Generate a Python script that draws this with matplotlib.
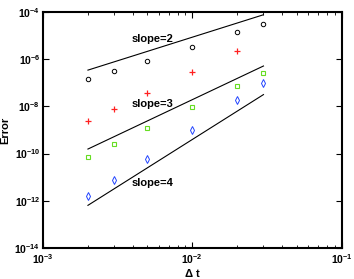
import numpy as np
import matplotlib
matplotlib.use("Agg")
import matplotlib.pyplot as plt
from matplotlib.ticker import LogLocator, NullFormatter, FixedLocator

plt.rcParams['font.family'] = ['Liberation Sans', 'DejaVu Sans']
plt.rcParams['mathtext.fontset'] = 'custom'
plt.rcParams['mathtext.rm'] = 'Liberation Sans:bold'
plt.rcParams['mathtext.bf'] = 'Liberation Sans:bold'

# data
dt = [0.002, 0.003, 0.005, 0.01, 0.02, 0.03]
err_circle = [1.4e-7, 3.2e-7, 8.7e-7, 3.5e-6, 1.4e-5, 3.2e-5]
dt_plus = [0.002, 0.003, 0.005, 0.01, 0.02]
err_plus = [2.4e-9, 8.0e-9, 3.6e-8, 3.0e-7, 2.3e-6]
err_square = [7.4e-11, 2.5e-10, 1.2e-9, 9.1e-9, 7.2e-8, 2.6e-7]
err_diamond = [1.5e-12, 7.7e-12, 5.8e-11, 1.0e-9, 1.8e-8, 9.6e-8]

# reference slope lines: C * dt^p
ref_dt = [0.002, 0.03]
slopes = [2, 3, 4]
ref_const = [0.0875, 0.0194, 0.0394]
label_pos = [(0.0054, 10**-5.13), (0.0054, 10**-7.88), (0.0054, 10**-11.26)]

fig = plt.figure(figsize=(3.54, 2.79), dpi=100)
ax = fig.add_axes([0.1215, 0.1122, 0.8432, 0.8437])

ax.plot(dt, err_circle, 'o', mfc='none', mec='black', ms=3.2, mew=0.7)
ax.plot(dt_plus, err_plus, '+', color='#ff2020', ms=4.5, mew=0.9)
ax.plot(dt, err_square, 's', mfc='none', mec='#66dd22', ms=2.8, mew=0.8)
ax.plot(dt, err_diamond, 'd', mfc='none', mec='#2244ff', ms=3.8, mew=0.7)

xr = np.array(ref_dt)
for p, c, (tx, ty) in zip(slopes, ref_const, label_pos):
    ax.plot(xr, c * xr ** p, color='black', lw=0.8)
    ax.text(tx, ty, f"slope={p}", fontsize=8, fontweight='bold', ha='center', va='center')

ax.set_xscale('log')
ax.set_yscale('log')
ax.set_xlim(1e-3, 1e-1)
ax.set_ylim(1e-14, 1e-4)

ax.xaxis.set_major_locator(FixedLocator([1e-3, 1e-2, 1e-1]))
ax.xaxis.set_minor_locator(LogLocator(base=10, subs=np.arange(2, 10)))
ax.xaxis.set_minor_formatter(NullFormatter())
ax.set_xticklabels([r'$\mathbf{10^{-3}}$', r'$\mathbf{10^{-2}}$', r'$\mathbf{10^{-1}}$'])
yt = [1e-14, 1e-12, 1e-10, 1e-8, 1e-6, 1e-4]
ax.yaxis.set_major_locator(FixedLocator(yt))
ax.yaxis.set_minor_locator(FixedLocator([]))
ax.set_yticklabels([r'$\mathbf{10^{%d}}$' % e for e in [-14, -12, -10, -8, -6, -4]])

ax.tick_params(which='both', direction='in', top=True, right=True, labelsize=7.5)
ax.tick_params(which='major', length=4, width=0.8, pad=2)
ax.tick_params(axis='x', which='major', pad=3.5)
ax.tick_params(which='minor', length=2, width=0.6)
for s in ax.spines.values():
    s.set_linewidth(1.5)

ax.set_xlabel(r'$\Delta$ t', fontsize=8, fontweight='bold')
ax.set_ylabel('Error', fontsize=8, fontweight='bold')
ax.xaxis.set_label_coords(0.5, -0.08)
ax.yaxis.set_label_coords(-0.11, 0.5)

fig.savefig('out.png', dpi=100)
